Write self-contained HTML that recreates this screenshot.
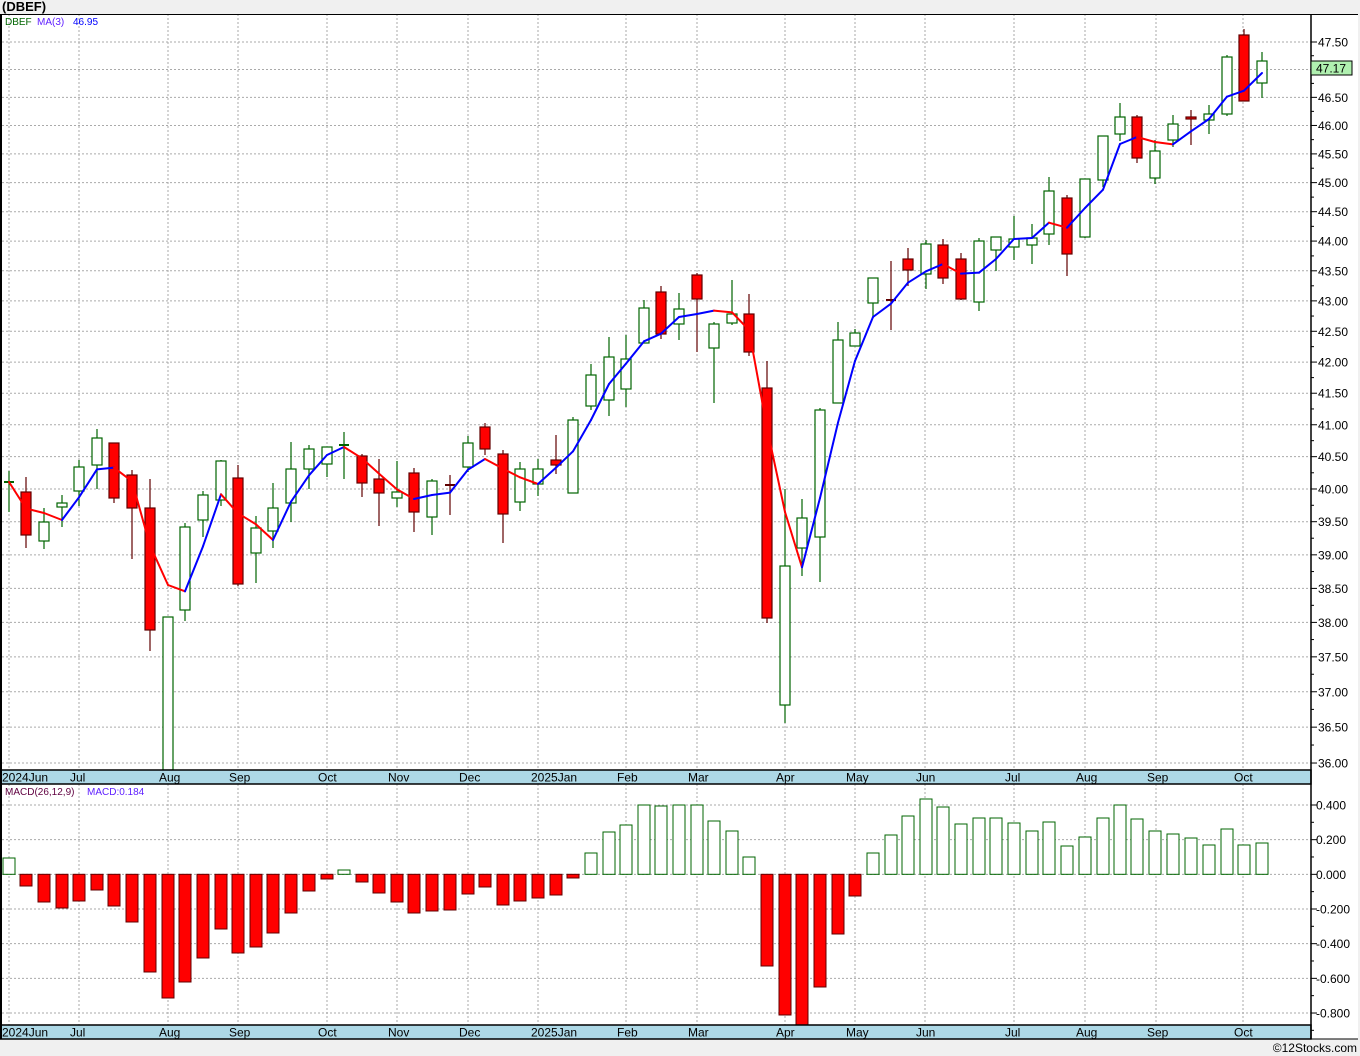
<!DOCTYPE html>
<html><head><meta charset="utf-8"><style>
html,body{margin:0;padding:0;background:#f0f0f0;}
svg{display:block;font-family:"Liberation Sans","DejaVu Sans",sans-serif;}
</style></head><body>
<svg id="s" width="1360" height="1056" xmlns="http://www.w3.org/2000/svg">
<rect x="0" y="0" width="1360" height="1056" fill="#f0f0f0"/>
<rect x="0" y="14" width="1358" height="1025" fill="#fff"/>
<text x="2" y="11" font-size="13" font-weight="bold" fill="#000">(DBEF)</text>
<text x="1357" y="1052" font-size="12" text-anchor="end" fill="#000">©12Stocks.com</text>
<g id="g"></g>
</svg>
<script>
const NS="http://www.w3.org/2000/svg",g=document.getElementById('g');
function el(t,a,txt){const e=document.createElementNS(NS,t);for(const k in a)e.setAttribute(k,a[k]);if(txt!=null)e.textContent=txt;g.appendChild(e);return e;}
const RX=1311;
function py(p){return 42+2601*(Math.log(47.5)-Math.log(p));}
for(let i=0;i<=23;i++){const p=47.5-i*0.5;const y=py(p);el('line',{x1:2,x2:RX,y1:y,y2:y,stroke:'#aaa','stroke-dasharray':'2,2','stroke-width':1});
 el('line',{x1:RX,x2:RX+6,y1:y,y2:y,stroke:'#000'});if(i<23){const ym=py(p-0.25);el('line',{x1:RX,x2:RX+3,y1:ym,y2:ym,stroke:'#000'});}
 el('text',{x:1318,y:y+4.5,'font-size':12,fill:'#000'},p.toFixed(2));}
for(let i=0;i<=6;i++){const y=805+i*34.67;el('line',{x1:2,x2:RX,y1:y,y2:y,stroke:'#aaa','stroke-dasharray':'2,2'});
 el('line',{x1:RX,x2:RX+6,y1:y,y2:y,stroke:'#000'});el('line',{x1:RX,x2:RX+3,y1:y+17.3,y2:y+17.3,stroke:'#000'});
 const v=(0.4-i*0.2);el('text',{x:1316,y:y+4.5,'font-size':12,fill:'#000'},(v<-0.001?'':' ')+v.toFixed(3).replace('-0.000','0.000'));}
const vx=[9,79,168,238,327,397,468,538,626,697,785,855,925,1014,1085,1156,1243];
const ml=['2024Jun','Jul','Aug','Sep','Oct','Nov','Dec','2025Jan','Feb','Mar','Apr','May','Jun','Jul','Aug','Sep','Oct'];
vx.forEach(x=>{el('line',{x1:x,x2:x,y1:14,y2:770,stroke:'#aaa','stroke-dasharray':'2,2'});el('line',{x1:x,x2:x,y1:784,y2:1025,stroke:'#aaa','stroke-dasharray':'2,2'});});
const C=[[9,482,482,471,512,1],[26,492,535,477,548,0],[44,522,541,508,549,1],[62,503,507,495,527,1],[79,467,491,460,506,1],[97,438,465,429,489,1],[114,443,498,443,503,0],[132,475,508,470,559,0],[150,508,630,479,651,0],[168,617,775,617,775,1],[185,527,610,523,621,1],[203,495,520,491,537,1],[221,461,500,460,506,1],[238,478,584,465,586,0],[256,528,553,516,583,1],[273,508,531,483,548,1],[291,469,503,442,522,1],[309,449,469,445,489,1],[327,447,464,447,477,1],[344,445,445,432,479,1],[362,456,483,454,497,0],[379,479,493,459,526,0],[397,492,498,461,507,1],[414,473,512,468,532,0],[432,481,517,479,535,1],[450,485,485,475,515,0],[468,443,467,436,472,1],[485,427,449,423,455,0],[503,454,514,450,543,0],[520,469,502,462,511,1],[538,469,484,459,496,1],[556,460,465,435,474,0],[573,420,493,417,493,1],[591,375,406,364,410,1],[609,357,400,337,416,1],[626,359,389,335,407,1],[644,308,343,300,343,1],[661,292,334,286,339,0],[679,309,324,293,340,1],[697,275,299,273,352,0],[714,324,348,322,403,1],[732,314,323,280,325,1],[749,314,352,294,356,0],[767,388,618,361,623,0],[785,566,705,489,723,1],[802,518,548,499,576,1],[820,410,537,408,582,1],[838,340,403,322,403,1],[855,333,346,329,346,1],[873,278,303,278,317,1],[891,300,300,261,330,0],[908,259,270,248,286,0],[926,244,274,240,289,1],[943,245,278,239,284,0],[961,259,299,253,300,0],[979,241,302,238,311,1],[996,237,250,237,271,1],[1014,239,247,216,260,1],[1032,238,245,224,264,1],[1049,191,234,177,245,1],[1067,198,254,195,276,0],[1085,179,237,179,238,1],[1103,136,180,136,187,1],[1120,117,134,103,141,1],[1137,117,158,115,163,0],[1155,151,178,140,184,1],[1173,124,140,115,147,1],[1191,117,119,110,145,0],[1209,114,120,105,134,1],[1227,57,114,55,116,1],[1244,35,101,29,101,0],[1262,61,83,52,98,1]];
C.forEach(c=>{const [x,t,b,h,l,u]=c;const col=u?'#006400':'#600000';
 el('line',{x1:x,x2:x,y1:h,y2:Math.min(l,770),stroke:col,'stroke-width':1.2});
 if(b-t<2){el('line',{x1:x-5,x2:x+5,y1:t,y2:t,stroke:col,'stroke-width':2});}
 else el('rect',{x:x-5,y:t,width:10,height:Math.min(b,770)-t,fill:u?'#fff':'#f00',stroke:col,'stroke-width':1.2});});
const cl=C.map(c=>c[5]?c[1]:c[2]);const ma=cl.map((v,i)=>i<2?null:(cl[i]+cl[i-1]+cl[i-2])/3);
ma[0]=482;ma[1]=(482+535)/2;
for(let i=1;i<C.length;i++){el('line',{x1:C[i-1][0],y1:ma[i-1],x2:C[i][0],y2:ma[i],stroke:ma[i]<=ma[i-1]?'#0000ff':'#ff0000','stroke-width':2,'stroke-linecap':'round'});}
const M=[858,886,902,908,901,890,906,922,972,998,982,958,929,953,947,933,913,891,879,870,882,893,902,913,911,910,894,887,905,901,898,895,878,853,832,825,805,806,805,805,821,831,857,966,1015,1025,987,934,896,853,835,816,799,807,824,818,818,823,831,822,846,837,818,805,819,831,834,838,845,829,845,843];
M.forEach((y,i)=>{const x=C[i][0];const z=874.3;const up=y<z;el('rect',{x:x-6,y:Math.min(y,z),width:12,height:Math.max(1.5,Math.abs(y-z)),fill:up?'#fff':'#f00',stroke:up?'#006400':'#600000','stroke-width':1});});
[[770],[1025]].forEach(([y])=>{el('rect',{x:0,y:y,width:RX,height:14,fill:'#add8e6',stroke:'#000','stroke-width':1.5});
 vx.forEach((x,i)=>el('text',{x:i==0?2:(i==7?531:x-9),y:y+11.5,'font-size':12,fill:'#000'},ml[i]));});
el('line',{x1:1,x2:1,y1:14,y2:1039,stroke:'#000','stroke-width':2});
el('line',{x1:0,x2:1358,y1:14.5,y2:14.5,stroke:'#000','stroke-width':1});
el('line',{x1:RX,x2:RX,y1:14,y2:1039,stroke:'#000','stroke-width':1.5});
el('line',{x1:0,x2:1358,y1:1039,y2:1039,stroke:'#000','stroke-width':1});
el('text',{x:5,y:25,'font-size':10,fill:'#006400'},'DBEF');
el('text',{x:37,y:25,'font-size':10,fill:'#6020ff'},'MA(3)');
el('text',{x:73,y:25,'font-size':10,fill:'#0000ff'},'46.95');
el('text',{x:5,y:795,'font-size':10,fill:'#600040'},'MACD(26,12,9)');
el('text',{x:87,y:795,'font-size':10,fill:'#6020ff'},'MACD:0.184');
el('rect',{x:1311,y:61,width:41,height:14,fill:'#b0f0b0',stroke:'#000'});
el('text',{x:1316,y:72.5,'font-size':12,fill:'#000'},'47.17');
</script>
</body></html>
